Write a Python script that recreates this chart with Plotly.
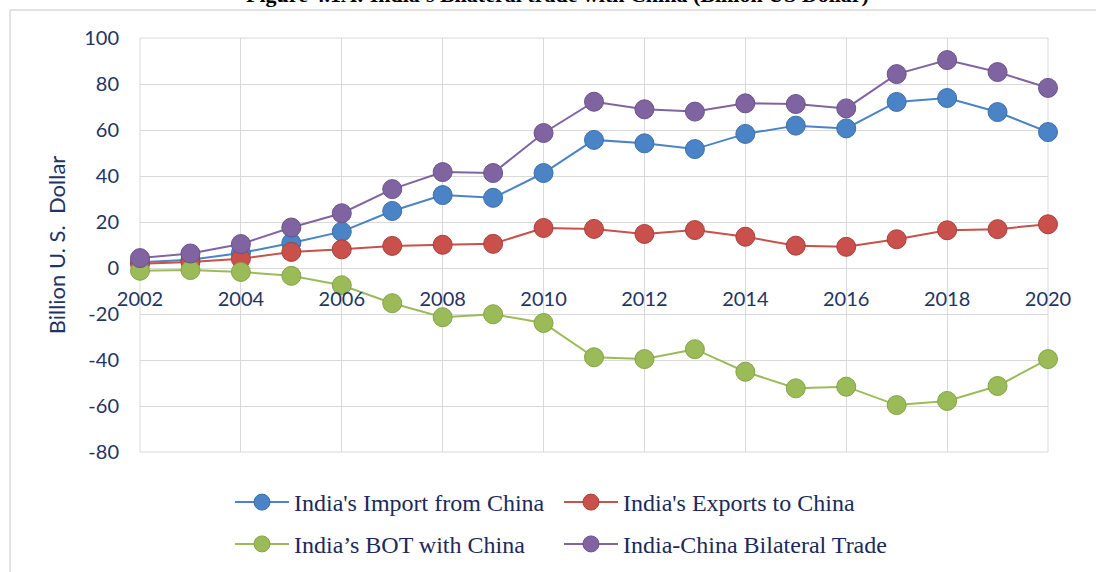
import plotly.graph_objects as go

years = list(range(2002, 2021))
imports = [2.5, 3.6, 6.5, 10.9, 15.8, 24.8, 31.7, 30.5, 41.3, 55.7, 54.2, 51.7, 58.3, 61.9, 60.7, 72.2, 73.9, 67.8, 59.1]
exports = [1.8, 2.6, 4.0, 7.0, 8.1, 9.6, 10.1, 10.5, 17.4, 17.0, 14.8, 16.5, 13.6, 9.7, 9.2, 12.5, 16.4, 16.9, 19.0]
bot = [-1.2, -0.9, -1.7, -3.4, -7.5, -15.3, -21.4, -20.1, -23.9, -38.8, -39.6, -35.3, -45.1, -52.3, -51.6, -59.6, -57.8, -51.3, -39.6]
bilateral = [4.3, 6.3, 10.4, 17.6, 23.8, 34.3, 41.7, 41.3, 58.7, 72.3, 69.0, 68.0, 71.6, 71.3, 69.4, 84.3, 90.4, 85.2, 78.3]

y_tickvals = [-80, -60, -40, -20, 0, 20, 40, 60, 80, 100]
y_ticktext = ["-80", "-60", "-40", "-20", "0", "20", "40", "60", "80", "100"]

names = ["India's Import from China", "India's Exports to China",
         "India\u2019s BOT with China", "India-China Bilateral Trade"]
series = [imports, exports, bot, bilateral]
colors = ["#4A83C6", "#C9504B", "#9BBB59", "#8064A2"]
edges = ["#3A6FAE", "#A8403C", "#84A447", "#6A528A"]
legends = ["legend", "legend", "legend2", "legend2"]

fig = go.Figure()
for nm, ys, c, e, lg in zip(names, series, colors, edges, legends):
    fig.add_trace(go.Scatter(
        x=years, y=ys, name=nm, mode="lines+markers", legend=lg,
        line=dict(color=c, width=2),
        marker=dict(size=19, color=c, line=dict(color=e, width=1)),
        cliponaxis=False,
    ))

navy = "#1F3464"
tickfont = dict(family="Lato, Open Sans, sans-serif", size=20, color=navy)
legfont = dict(family="Liberation Serif, Times New Roman, serif", size=24, color="#1A2A5A")

fig.update_layout(
    width=1096, height=572,
    margin=dict(l=140, r=48, t=38, b=120, autoexpand=False),
    paper_bgcolor="white", plot_bgcolor="white",
    xaxis=dict(range=[2002, 2020], dtick=2, tick0=2002, showgrid=True,
               gridcolor="#D9D9D9", gridwidth=1, zeroline=False,
               showline=False, tickfont=tickfont, anchor="free",
               position=(0 - (-80)) / 180.0, ticks="", ticklabelstandoff=17),
    yaxis=dict(range=[-80, 100], tickmode="array", tickvals=y_tickvals, ticktext=y_ticktext,
               showgrid=True, gridcolor="#D9D9D9",
               gridwidth=1, zeroline=False, tickfont=tickfont, ticks="",
               ticklabelstandoff=20,
               title=dict(text="Billion U. S.  Dollar",
                          font=dict(family="Lato, Open Sans, sans-serif", size=22, color=navy),
                          standoff=12)),
    legend=dict(orientation="h", x=0.0991, xanchor="left", y=-0.122, yanchor="middle",
                entrywidth=260, itemwidth=54, font=legfont, bgcolor="rgba(0,0,0,0)"),
    legend2=dict(orientation="h", x=0.0991, xanchor="left", y=-0.223, yanchor="middle",
                 entrywidth=260, itemwidth=54, font=legfont, bgcolor="rgba(0,0,0,0)"),
    showlegend=True,
)

# plot area border (top/right edges)
fig.add_shape(type="rect", xref="paper", yref="paper", x0=0, x1=1, y0=0, y1=1,
              line=dict(color="#D9D9D9", width=1), layer="below")
# chart container border (left/top)
fig.add_shape(type="line", xref="paper", yref="paper",
              x0=(10 - 140) / 908, x1=(10 - 140) / 908, y0=(452 - 580) / 414, y1=(452 - 10) / 414,
              line=dict(color="#D9D9D9", width=1.5))
fig.add_shape(type="line", xref="paper", yref="paper",
              x0=(10 - 140) / 908, x1=(1100 - 140) / 908, y0=(452 - 10) / 414, y1=(452 - 10) / 414,
              line=dict(color="#D9D9D9", width=1.5))

fig.add_annotation(text="<b>Figure 4.1A: India's Bilateral trade with China (Billion US Dollar)</b>",
                   xref="paper", yref="paper", x=(557 - 140) / 908, y=(452 - 9) / 414,
                   xanchor="center", yanchor="bottom", showarrow=False,
                   font=dict(family="Liberation Serif, Times New Roman, serif", size=22, color="#000000"))

fig.write_html("out.html")
